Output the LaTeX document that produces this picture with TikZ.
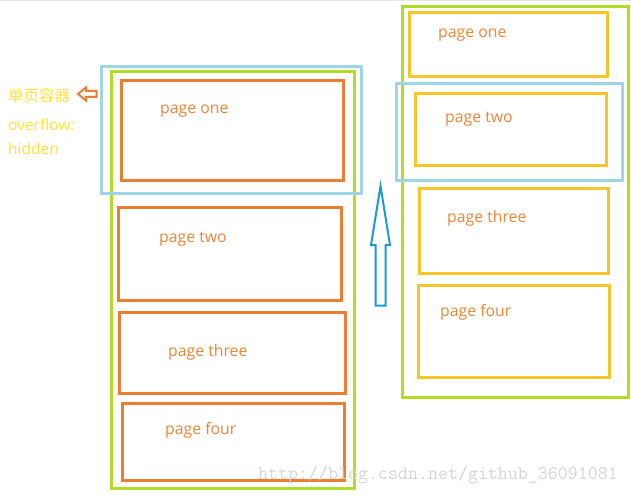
\documentclass[tikz,border=0pt]{standalone}
\usepackage{fontspec}
\setmainfont{Open Sans}
\newfontfamily\cjk{Noto Sans CJK SC}
\definecolor{cOrange}{HTML}{ED7D31}
\definecolor{cGreen}{HTML}{B0DC2A}
\definecolor{cLBlue}{HTML}{9DD5E6}
\definecolor{cYellow}{HTML}{F7C42A}
\definecolor{cBlue}{HTML}{1A9AD6}
\definecolor{cText}{HTML}{EE8436}
\definecolor{cYText}{HTML}{FFE13A}
\definecolor{cWm}{HTML}{D4D4D4}
\tikzset{
  box/.style={draw, rectangle, inner sep=0pt, outer sep=0pt, line width=3pt},
  obox/.style={box, draw=cOrange},
  ybox/.style={box, draw=cYellow},
  gbox/.style={box, draw=cGreen},
  bbox/.style={box, draw=cLBlue, line width=3pt},
  lbl/.style={anchor=west, text=cText, font=\fontsize{15.8}{17}\selectfont, inner sep=0pt},
  ylbl/.style={anchor=west, text=cYText, font=\fontsize{15.5}{17}\selectfont, inner sep=0pt},
}
\begin{document}
\begin{tikzpicture}[x=1pt,y=-1pt]
\useasboundingbox (0,0) rectangle (631,497);
\draw[cWm!60, line width=0.6pt] (0,0.5) -- (631,0.5);
% left column
\node[gbox, minimum width=243, minimum height=416] (lg) at (232.5,280) {};
\node[obox, minimum width=222, minimum height=99] (l1) at (232,130.5) {};
\node[obox, minimum width=223, minimum height=93] (l2) at (229.5,253.5) {};
\node[obox, minimum width=226, minimum height=81] (l3) at (232,352.5) {};
\node[obox, minimum width=222, minimum height=77] (l4) at (233,441.5) {};
\node[bbox, minimum width=260, minimum height=126] (lb) at (231,130) {};
\node[lbl] (t1) at (160,111) {page one};
\node[lbl] (t2) at (159,239) {page two};
\node[lbl] (t3) at (168,352) {page three};
\node[lbl] (t4) at (165,430) {page four};
% left text
\node[ylbl] (c1) at (8,96) {\cjk 单页容器};
\node[ylbl] (c2) at (8,124.5) {overflow:};
\node[ylbl] (c3) at (8,148.5) {hidden};
% orange hollow arrow
\draw[cOrange, line width=2pt, line join=miter]
  (78,94) -- (86,87.5) -- (86,91) -- (96.5,91) -- (96.5,97) -- (86,97) -- (86,100.5) -- cycle;
% blue hollow arrow
\draw[cBlue, line width=2pt, line join=miter]
  (380.5,186) -- (390,245) -- (385.5,245) -- (385.5,305.5) -- (375.5,305.5) -- (375.5,245) -- (371,245) -- cycle;
% right column
\node[gbox, minimum width=226, minimum height=390] (rg) at (515,202) {};
\node[ybox, minimum width=198, minimum height=64] (r1) at (508,45) {};
\node[ybox, minimum width=191, minimum height=72] (r2) at (510.5,130) {};
\node[ybox, minimum width=189, minimum height=85] (r3) at (513.5,230.5) {};
\node[ybox, minimum width=191, minimum height=92] (r4) at (513.5,331) {};
\node[bbox, minimum width=226, minimum height=96] (rb) at (509,132) {};
\node[lbl] (s1) at (438,35) {page one};
\node[lbl] (s2) at (445,119) {page two};
\node[lbl] (s3) at (447,218) {page three};
\node[lbl] (s4) at (440,312) {page four};
% watermark
\node[anchor=west, text=cWm, inner sep=0pt, font=\ttfamily\fontsize{19.4}{20}\selectfont] (wm) at (258,475) {http://blog.csdn.net/github\_36091081};
\end{tikzpicture}
\end{document}
